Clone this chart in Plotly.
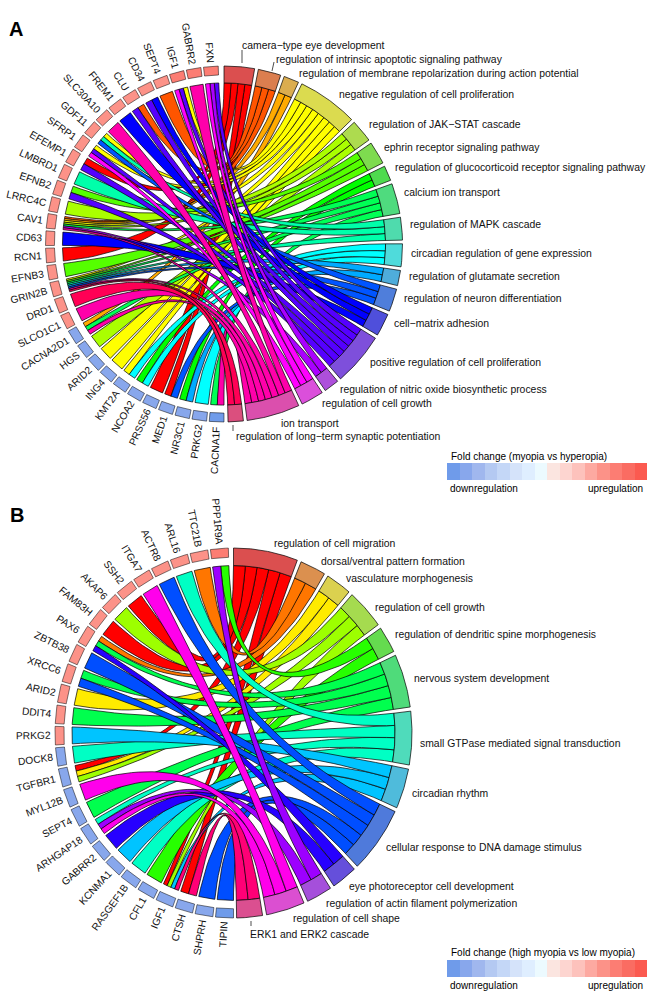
import colorsys, math
import numpy as np
import plotly.graph_objects as go

# ---------- data: panel A ----------
genes_a = ["CACNA1F","PRKG2","NR3C1","MED1","PRSS56","NCOA2","KMT2A","ING4","ARID2","HGS","CACNA2D1",
           "SLCO1C1","DRD1","GRIN2B","EFNB3","RCN1","CD63","CAV1","LRRC4C","EFNB2","LMBRD1","EFEMP1",
           "SFRP1","GDF11","SLC30A10","FREM1","CLU","CD34","SEPT4","IGF1","GABRR2","FXN"]
fold_a = [-1.0,-0.8,-0.8,-0.8,-0.8,-0.8,-0.8,-0.8,-0.8,-0.8,-0.8,
          0.6,0.6,0.6,0.6,0.6,0.6,0.6,0.6,0.6,0.6,0.6,0.6,0.6,0.6,0.6,0.6,0.6,0.6,0.75,0.75,0.75]
terms_a = ["camera\u2212type eye development","regulation of intrinsic apoptotic signaling pathway",
           "regulation of membrane repolarization during action potential","negative regulation of cell proliferation",
           "regulation of JAK\u2212STAT cascade","ephrin receptor signaling pathway",
           "regulation of glucocorticoid receptor signaling pathway","calcium ion transport","regulation of MAPK cascade",
           "circadian regulation of gene expression","regulation of glutamate secretion","regulation of neuron differentiation",
           "cell\u2212matrix adhesion","positive regulation of cell proliferation","regulation of nitric oxide biosynthetic process",
           "regulation of cell growth","ion transport","regulation of long\u2212term synaptic potentiation"]
links_a = [[7,16],[9],[6,10],[0,11],[0],[6,9],[3,9],[3],[3],[4],[2,7,16],
           [16],[17],[3,5,7,8,10,11,16,17],[5],[0],[12],[1,2,3,4,7,14,16],[4],[5,13],[8],[0,13],
           [3,13,15],[3,8,11],[16],[12],[1,13],[12,13],[1],[3,13,15],[16],[13,14,15]]

# ---------- data: panel B ----------
genes_b = ["TIPIN","SHPRH","CTSH","IGF1","CFL1","RASGEF1B","KCNMA1","GABRR2","ARHGAP18","SEPT4","MYL12B","TGFBR1","DOCK8",
           "PRKG2","DDIT4","ARID2","XRCC6","ZBTB38","PAX6","FAM83H","AKAP6","SSH2","ITGA7","ACTR8","ARL16","TTC21B","PPP1R9A"]
fold_b = [-1.0,-0.8,-0.8,-0.8,-0.8,-0.8,-0.8,-0.8,-0.8,-0.8,-0.8,-0.8,-0.8,
          0.6,0.6,0.6,0.6,0.6,0.6,0.6,0.6,0.6,0.6,0.6,0.6,0.6,0.75]
terms_b = ["regulation of cell migration","dorsal/ventral pattern formation","vasculature morphogenesis","regulation of cell growth",
           "regulation of dendritic spine morphogenesis","nervous system development","small GTPase mediated signal transduction",
           "circadian rhythm","cellular response to DNA damage stimulus","eye photoreceptor cell development",
           "regulation of actin filament polymerization","regulation of cell shape","ERK1 and ERK2 cascade"]
links_b = [[8],[8],[0,12],[0,3,7,12],[4],[6],[7],[9],[6,10,11],[5],[11],[0,2,3],[6],
           [7],[5],[2],[5,8],[8],[1,5,9],[0],[3],[0],[11],[8],[6],[1],[4,10]]

# ---------- data: fold-change legend ----------
legend_levels = [-1.0,-0.87,-0.73,-0.6,-0.47,-0.33,-0.2,-0.07,0.07,0.2,0.33,0.47,0.6,0.73,0.87,1.0]
legend_colors = ["#6F9BEA","#88A7EC","#A0B7EE","#B4C9F2","#C4D7F7","#D5E3FA","#DFEEFF","#ECFAFF",
                 "#FBE5E0","#FDD5D0","#FDC2BC","#FDA9A1","#FC9288","#FC7D73","#FA6C62","#FB5A50"]

def fold_color(f):
    return legend_colors[int(np.argmin([abs(f - v) for v in legend_levels]))]

def hsv(h, s, v):
    r, g, b = colorsys.hsv_to_rgb(h, s, v)
    return "#%02x%02x%02x" % (round(r*255), round(g*255), round(b*255))

WID = {c: .667 for c in "ABEKPSVXY"}
WID.update({c: .722 for c in "CDHNRU"})
WID.update({c: .778 for c in "GOQ"})
WID.update({"F": .611, "T": .611, "Z": .611, "L": .556, "I": .278, "J": .5, "M": .833, "W": .944})
def text_len(s, size):
    return sum(WID.get(c, .556) for c in s) * size

FONT = "Liberation Sans, Arial, sans-serif"
LW = 0.7
fig = go.Figure()
annotations = []

def add_poly(xs, ys, color, lw=LW):
    fig.add_trace(go.Scatter(x=xs, y=ys, mode="lines", fill="toself", fillcolor=color,
                             line=dict(color="#000000", width=lw), hoverinfo="skip", showlegend=False))

def panel(genes, fold, terms, links, cx, cy, rx, ry, term_end, term_gap, gene_end):
    R_GENE_OUT, R_GENE_IN, R_CHORD = 1.0, 0.95, 0.905
    def P(theta, r):
        t = np.radians(theta)
        return cx + rx*r*np.sin(t), cy - ry*r*np.cos(t)
    def arc(a, b, r):
        n = max(2, int(abs(b-a)/0.5)+2)
        return P(np.linspace(a, b, n), r)
    def bez(a, b):
        s = np.linspace(0, 1, 40)
        x0, y0 = P(a, R_CHORD); x1, y1 = P(b, R_CHORD)
        w0, w1, wc = (1-s)**2, s**2, 2*s*(1-s)
        return w0*x0 + w1*x1 + wc*cx, w0*y0 + w1*y1 + wc*cy

    nt = len(terms)
    counts = [sum(t in l for l in links) for t in range(nt)]
    unit = (term_end - term_gap*(nt-1)) / sum(counts)
    term_ranges, a = [], 0.0
    for c in counts:
        term_ranges.append((a, a + c*unit))
        a += c*unit + term_gap

    ng = len(genes)
    step = (gene_end - 180.0) / ng
    gene_ranges = [(180.0 + i*step, 180.0 + (i+1)*step - 0.85) for i in range(ng)]

    gene_slot = {}
    for g, l in enumerate(links):
        g0, g1 = gene_ranges[g]
        w = (g1 - g0) / len(l)
        for k, t in enumerate(sorted(l, reverse=True)):
            gene_slot[(g, t)] = (g0 + k*w, g0 + (k+1)*w)
    term_slot = {}
    for t in range(nt):
        members = [g for g, l in enumerate(links) if t in l]
        t0 = term_ranges[t][0]
        for k, g in enumerate(sorted(members, reverse=True)):
            term_slot[(g, t)] = (t0 + k*unit, t0 + (k+1)*unit)

    colors = [hsv(i/nt, 1, 1) for i in range(nt)]
    ring = [hsv(i/nt, 0.64, 0.86) for i in range(nt)]
    for t in range(nt):
        for g, l in enumerate(links):
            if t not in l:
                continue
            t0, t1 = term_slot[(g, t)]
            g0, g1 = gene_slot[(g, t)]
            pieces = [arc(t0, t1, R_CHORD), bez(t1, g0), arc(g0, g1, R_CHORD), bez(g1, t0)]
            add_poly(np.concatenate([p[0] for p in pieces]), np.concatenate([p[1] for p in pieces]), colors[t])
    for t in range(nt):
        a0, a1 = term_ranges[t]
        o = arc(a0, a1, R_GENE_OUT); i = arc(a1, a0, R_CHORD)
        add_poly(np.r_[o[0], i[0], o[0][0]], np.r_[o[1], i[1], o[1][0]], ring[t])
    size = 10.2
    for g, name in enumerate(genes):
        a0, a1 = gene_ranges[g]
        o = arc(a0, a1, R_GENE_OUT); i = arc(a1, a0, R_GENE_IN)
        add_poly(np.r_[o[0], i[0], o[0][0]], np.r_[o[1], i[1], o[1][0]], fold_color(fold[g]), 0.5)
        mid = (a0 + a1) / 2
        L = text_len(name, size)
        t = math.radians(mid)
        d = 4 + L/2
        x = cx + (rx + d)*math.sin(t); y = cy - (ry + d)*math.cos(t)
        annotations.append(dict(x=x, y=y, text=name, textangle=mid-270, showarrow=False, xanchor="center", yanchor="middle",
                                font=dict(size=size, color="#111111", family=FONT)))

panel(genes_a, fold_a, terms_a, links_a, 224, 244, 178.5, 178, 178.7, 1.2, 359)
panel(genes_b, fold_b, terms_b, links_b, 233.5, 733, 178.5, 185, 179, 1.3, 359.2)

# ---------- text placement ----------
label_pos_a = [(240,45),(274,59),(297,73),(337,94),(367,124),(382,147),(393,167),(402,192),(408,224),
               (409,253),(407,276),(402,298),(392,323),(368,362),(338,389),(320,403),(279,423),(234,436)]
label_pos_b = [(272,543),(319,561),(344,578),(373,607),(393,634),(412,678),(418,743),(410,793),(384,847),
               (347,886),(324,903),(291,918),(248,934)]
for names, pos in ((terms_a, label_pos_a), (terms_b, label_pos_b)):
    for name, (x, y) in zip(names, pos):
        annotations.append(dict(x=x, y=y, text=name, showarrow=False, xanchor="left", yanchor="middle",
                                font=dict(size=10.4, color="#111111", family=FONT)))

def text(x, y, s, size=10.4, bold=False, anchor="left"):
    annotations.append(dict(x=x, y=y, text=f"<b>{s}</b>" if bold else s, showarrow=False, xanchor=anchor, yanchor="middle",
                            font=dict(size=size, color="#000000", family=FONT)))
text(-1, 5, "Genes associated with baseline refractive development")
text(-1, 485, "Genes associated with susceptibility to myopia")
text(7, 29, "A", 20, True)
text(8, 515, "B", 20, True)

# ---------- legends ----------
for y0, title, ty, by in ((463, "Fold change (myopia vs hyperopia)", 456, 488),
                          (960, "Fold change (high myopia vs low myopia)", 952, 985)):
    fig.add_trace(go.Heatmap(z=[legend_levels], x0=447+6.25, dx=12.5, y0=y0+8.5, dy=17,
                             colorscale=[[(v+1)/2, c] for v, c in zip(legend_levels, legend_colors)],
                             zmin=-1, zmax=1, showscale=False, hoverinfo="skip"))
    text(449, ty, title, 10)
    text(448, by, "downregulation", 10)
    text(645, by, "upregulation", 10, anchor="right")

leaders = [(242,50,242,63),(274,62,272,71),(233,425,233,431),(251,921,251,926)]
shapes = [dict(type="line", x0=a, y0=b, x1=c, y1=d, xref="x", yref="y", line=dict(color="#000000", width=0.7)) for a,b,c,d in leaders]

fig.update_layout(width=647, height=991, margin=dict(l=0,r=0,t=0,b=0), plot_bgcolor="#ffffff", paper_bgcolor="#ffffff",
                  xaxis=dict(range=[0,647], visible=False, fixedrange=True),
                  yaxis=dict(range=[991,0], visible=False, fixedrange=True),
                  annotations=annotations, shapes=shapes, showlegend=False)
fig.write_html("out.html", config=dict(displayModeBar=False), post_script="document.body.style.margin='0';")
